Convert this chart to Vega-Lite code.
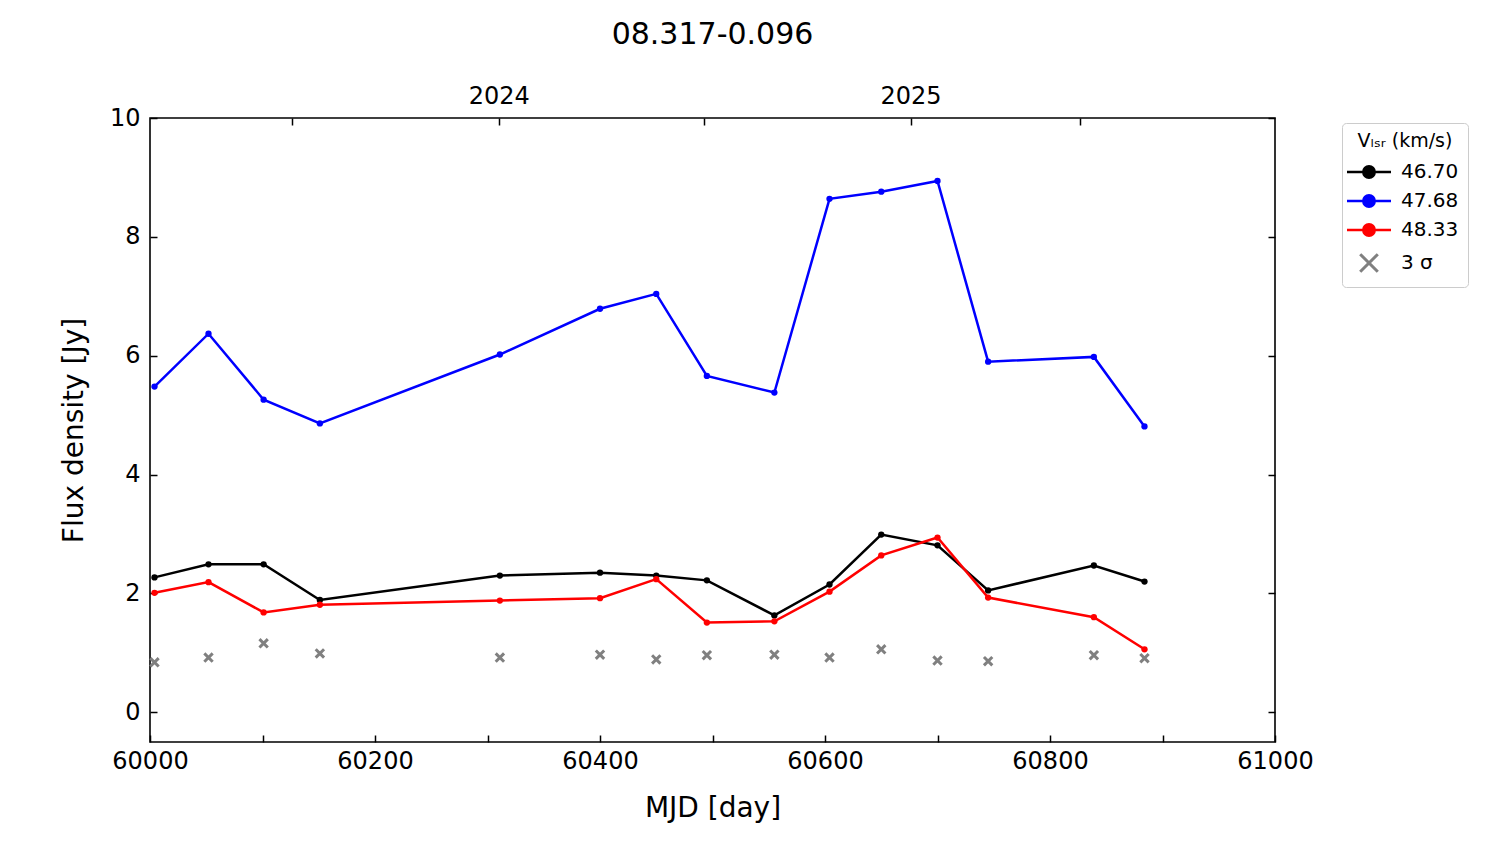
{
  "$schema": "https://vega.github.io/schema/vega-lite/v6.json",
  "autosize": "none",
  "width": 1125,
  "height": 624,
  "padding": {"left": 150, "top": 118, "right": 225, "bottom": 102},
  "background": "white",
  "title": {
    "text": "08.317-0.096",
    "fontSize": 30,
    "fontWeight": "normal",
    "font": "DejaVu Sans",
    "color": "black",
    "anchor": "middle",
    "offset": 34
  },
  "config": {
    "view": {"stroke": "black", "strokeWidth": 1.6},
    "axis": {
      "domain": false,
      "grid": false,
      "ticks": true,
      "tickColor": "black",
      "tickWidth": 1.5,
      "tickSize": -7,
      "labelFont": "DejaVu Sans",
      "labelFontSize": 24,
      "labelColor": "black",
      "labelFlush": false,
      "labelOverlap": false,
      "labelBound": false,
      "titleFont": "DejaVu Sans",
      "titleFontSize": 28,
      "titleFontWeight": "normal",
      "titleColor": "black"
    },
    "legend": {
      "labelFont": "DejaVu Sans",
      "titleFont": "DejaVu Sans"
    }
  },
  "data": {
    "values": [
      {"mjd": 60004, "flux": 2.27, "series": "46.70"},
      {"mjd": 60052, "flux": 2.49, "series": "46.70"},
      {"mjd": 60101, "flux": 2.49, "series": "46.70"},
      {"mjd": 60151, "flux": 1.89, "series": "46.70"},
      {"mjd": 60311, "flux": 2.30, "series": "46.70"},
      {"mjd": 60400, "flux": 2.35, "series": "46.70"},
      {"mjd": 60450, "flux": 2.30, "series": "46.70"},
      {"mjd": 60495, "flux": 2.22, "series": "46.70"},
      {"mjd": 60555, "flux": 1.63, "series": "46.70"},
      {"mjd": 60604, "flux": 2.15, "series": "46.70"},
      {"mjd": 60650, "flux": 2.99, "series": "46.70"},
      {"mjd": 60700, "flux": 2.81, "series": "46.70"},
      {"mjd": 60745, "flux": 2.05, "series": "46.70"},
      {"mjd": 60839, "flux": 2.47, "series": "46.70"},
      {"mjd": 60884, "flux": 2.20, "series": "46.70"},
      {"mjd": 60004, "flux": 5.48, "series": "47.68"},
      {"mjd": 60052, "flux": 6.37, "series": "47.68"},
      {"mjd": 60101, "flux": 5.26, "series": "47.68"},
      {"mjd": 60151, "flux": 4.86, "series": "47.68"},
      {"mjd": 60311, "flux": 6.02, "series": "47.68"},
      {"mjd": 60400, "flux": 6.79, "series": "47.68"},
      {"mjd": 60450, "flux": 7.04, "series": "47.68"},
      {"mjd": 60495, "flux": 5.66, "series": "47.68"},
      {"mjd": 60555, "flux": 5.38, "series": "47.68"},
      {"mjd": 60604, "flux": 8.64, "series": "47.68"},
      {"mjd": 60650, "flux": 8.76, "series": "47.68"},
      {"mjd": 60700, "flux": 8.94, "series": "47.68"},
      {"mjd": 60745, "flux": 5.90, "series": "47.68"},
      {"mjd": 60839, "flux": 5.98, "series": "47.68"},
      {"mjd": 60884, "flux": 4.81, "series": "47.68"},
      {"mjd": 60004, "flux": 2.01, "series": "48.33"},
      {"mjd": 60052, "flux": 2.19, "series": "48.33"},
      {"mjd": 60101, "flux": 1.68, "series": "48.33"},
      {"mjd": 60151, "flux": 1.81, "series": "48.33"},
      {"mjd": 60311, "flux": 1.88, "series": "48.33"},
      {"mjd": 60400, "flux": 1.92, "series": "48.33"},
      {"mjd": 60450, "flux": 2.24, "series": "48.33"},
      {"mjd": 60495, "flux": 1.51, "series": "48.33"},
      {"mjd": 60555, "flux": 1.53, "series": "48.33"},
      {"mjd": 60604, "flux": 2.03, "series": "48.33"},
      {"mjd": 60650, "flux": 2.64, "series": "48.33"},
      {"mjd": 60700, "flux": 2.94, "series": "48.33"},
      {"mjd": 60745, "flux": 1.93, "series": "48.33"},
      {"mjd": 60839, "flux": 1.60, "series": "48.33"},
      {"mjd": 60884, "flux": 1.06, "series": "48.33"},
      {"mjd": 60004, "flux": 0.84, "series": "3 σ"},
      {"mjd": 60052, "flux": 0.92, "series": "3 σ"},
      {"mjd": 60101, "flux": 1.16, "series": "3 σ"},
      {"mjd": 60151, "flux": 0.99, "series": "3 σ"},
      {"mjd": 60311, "flux": 0.92, "series": "3 σ"},
      {"mjd": 60400, "flux": 0.97, "series": "3 σ"},
      {"mjd": 60450, "flux": 0.89, "series": "3 σ"},
      {"mjd": 60495, "flux": 0.96, "series": "3 σ"},
      {"mjd": 60555, "flux": 0.97, "series": "3 σ"},
      {"mjd": 60604, "flux": 0.92, "series": "3 σ"},
      {"mjd": 60650, "flux": 1.06, "series": "3 σ"},
      {"mjd": 60700, "flux": 0.87, "series": "3 σ"},
      {"mjd": 60745, "flux": 0.86, "series": "3 σ"},
      {"mjd": 60839, "flux": 0.96, "series": "3 σ"},
      {"mjd": 60884, "flux": 0.91, "series": "3 σ"}
    ]
  },
  "layer": [
    {
      "transform": [{"filter": "datum.series !== '3 σ'"}],
      "mark": {"type": "line", "strokeWidth": 2.5},
      "encoding": {
        "x": {
          "field": "mjd",
          "type": "quantitative",
          "scale": {"domain": [60000, 61000], "nice": false, "zero": false},
          "axis": {
            "orient": "bottom",
            "title": "MJD [day]",
            "values": [60000, 60100, 60200, 60300, 60400, 60500, 60600, 60700, 60800, 60900, 61000],
            "format": "d",
            "labelExpr": "datum.value % 200 === 0 ? datum.label : ''",
            "labelPadding": 14,
            "titlePadding": 21
          }
        },
        "y": {
          "field": "flux",
          "type": "quantitative",
          "scale": {"domain": [-0.5, 10], "nice": false, "zero": false},
          "axis": {
            "orient": "left",
            "title": "Flux density [Jy]",
            "values": [0, 2, 4, 6, 8, 10],
            "labelPadding": 17,
            "titlePadding": 21
          }
        },
        "color": {
          "field": "series",
          "type": "nominal",
          "scale": {
            "domain": ["46.70", "47.68", "48.33", "3 σ"],
            "range": ["#000000", "#0000ff", "#ff0000", "#808080"]
          },
          "legend": {
            "title": "Vₗₛᵣ (km/s)",
            "orient": "none",
            "legendX": 1192,
            "legendY": 5,
            "titleFontSize": 19,
            "titleFontWeight": "normal",
            "titleColor": "black",
            "titleAnchor": "middle",
            "titlePadding": 11,
            "labelFontSize": 20,
            "labelColor": "black",
            "symbolSize": 1936,
            "symbolOffset": 8,
            "labelOffset": 22,
            "rowPadding": 7,
            "padding": 9,
            "strokeColor": "#cccccc",
            "fillColor": "white",
            "cornerRadius": 4,
            "encode": {
              "symbols": {
                "update": {
                  "shape": {"signal": "datum.value === '3 σ' ? 'M-0.4,-0.4L0.4,0.4M-0.4,0.4L0.4,-0.4' : 'M-1,0L1,0M0.26,0A0.26,0.26,0,1,1,-0.26,0A0.26,0.26,0,1,1,0.26,0Z'"},
                  "fill": {"signal": "datum.value === '3 σ' ? 'transparent' : datum.value === '47.68' ? '#0000ff' : datum.value === '48.33' ? '#ff0000' : '#000000'"},
                  "stroke": {"signal": "datum.value === '3 σ' ? '#808080' : datum.value === '47.68' ? '#0000ff' : datum.value === '48.33' ? '#ff0000' : '#000000'"},
                  "strokeWidth": {"signal": "datum.value === '3 σ' ? 3 : 2.5"}
                }
              }
            }
          }
        }
      }
    },
    {
      "transform": [{"filter": "datum.series !== '3 σ'"}],
      "mark": {"type": "point", "shape": "circle", "filled": true, "size": 40, "opacity": 1},
      "encoding": {
        "x": {"field": "mjd", "type": "quantitative", "axis": null},
        "y": {
          "field": "flux",
          "type": "quantitative",
          "axis": {"orient": "right", "labels": false, "title": null, "values": [0, 2, 4, 6, 8, 10]}
        },
        "color": {"field": "series", "type": "nominal"}
      }
    },
    {
      "transform": [{"filter": "datum.series === '3 σ'"}],
      "mark": {
        "type": "point",
        "shape": "M-1,-1L1,1M-1,1L1,-1",
        "filled": false,
        "size": 70,
        "strokeWidth": 3,
        "opacity": 1
      },
      "encoding": {
        "x": {
          "field": "mjd",
          "type": "quantitative",
          "axis": {
            "orient": "top",
            "title": null,
            "values": [60126, 60310, 60492, 60676, 60827],
            "labelExpr": "datum.value === 60310 ? '2024' : datum.value === 60676 ? '2025' : ''",
            "labelPadding": 17
          }
        },
        "y": {"field": "flux", "type": "quantitative", "axis": null},
        "color": {"field": "series", "type": "nominal"}
      }
    }
  ],
  "resolve": {"axis": {"x": "independent", "y": "independent"}}
}
